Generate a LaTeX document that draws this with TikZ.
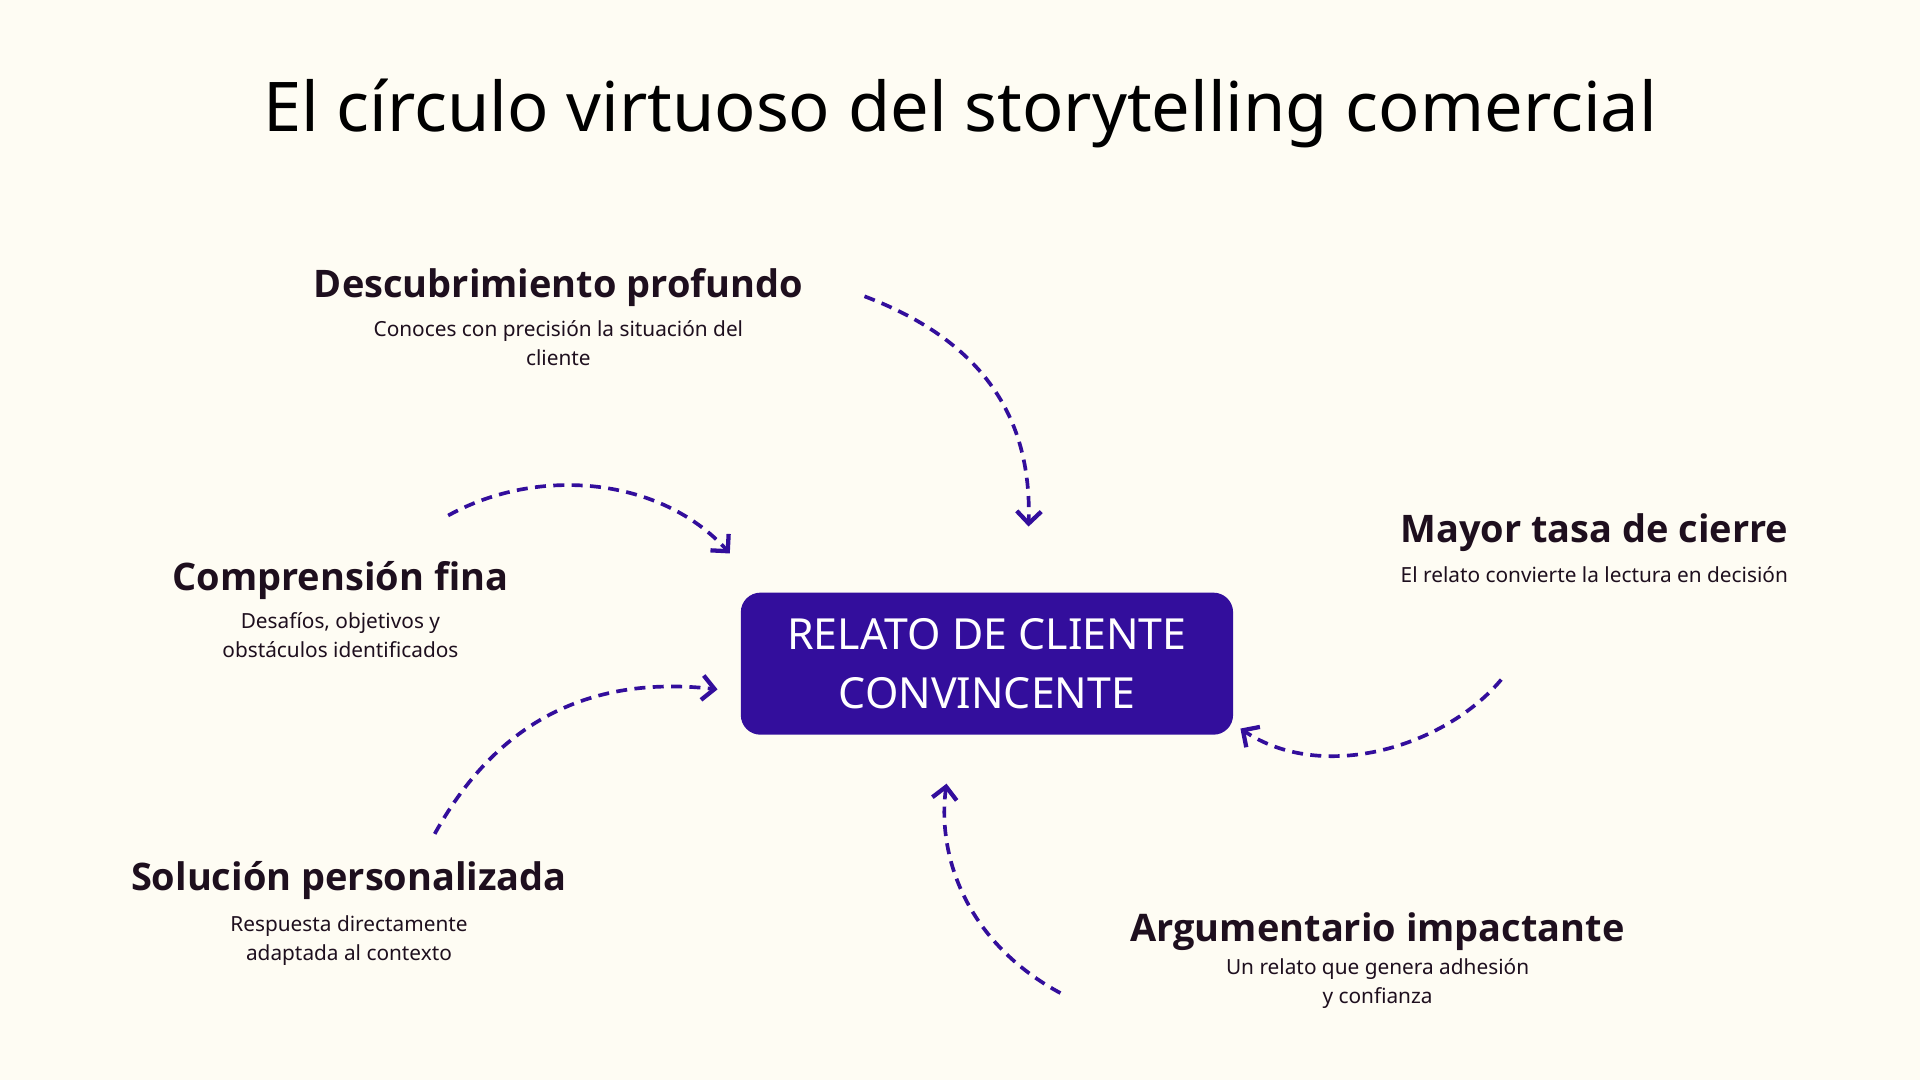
\documentclass[tikz,border=0pt]{standalone}
\usepackage{fontspec}
\setmainfont{Noto Sans}
\newfontfamily\headfont{Open Sans}
\usetikzlibrary{arrows.meta}
\definecolor{bg}{HTML}{FEFCF3}
\definecolor{boxc}{HTML}{330E9C}
\definecolor{ink}{HTML}{1E0F1E}
\begin{document}
\begin{tikzpicture}[x=1pt,y=-1pt,
  head/.style={font=\headfont\fontsize{31}{36}\selectfont\bfseries, text=ink},
  sub/.style={font=\fontsize{17}{23.5}\selectfont, text=ink, align=center},
  conn/.style={draw=boxc, line width=3pt, dash pattern=on 9pt off 6pt,
    -{Straight Barb[length=10pt,width=20pt,line width=3.5pt]}}]
\fill[bg] (0,0) rectangle (1568,882);
\useasboundingbox (0,0) rectangle (1568,882);
\node[font=\fontsize{56}{66}\selectfont, text=black] (title) at (784,93) {El círculo virtuoso del storytelling comercial};
\node[fill=boxc, rounded corners=16pt, minimum width=402pt, minimum height=116pt, text=white, align=center, font=\fontsize{35}{48}\selectfont] (box) at (806,542) {RELATO DE CLIENTE\\CONVINCENTE};
\node[head] (h1) at (456,235) {Descubrimiento profundo};
\node[sub] (s1) at (456,280) {Conoces con precisión la situación del\\cliente};
\node[head] (h2) at (278,474) {Comprensión fina};
\node[sub] (s2) at (278,519) {Desafíos, objetivos y\\obstáculos identificados};
\node[head] (h3) at (285,719) {Solución personalizada};
\node[sub] (s3) at (285,768) {Respuesta directamente\\adaptada al contexto};
\node[head] (h4) at (1302,435) {Mayor tasa de cierre};
\node[sub] (s4) at (1302,469) {El relato convierte la lectura en decisión};
\node[head] (h5) at (1125,761) {Argumentario impactante};
\node[sub] (s5) at (1125,803) {Un relato que genera adhesión\\y confianza};
\coordinate (a1) at (706,242); \coordinate (b1) at (840,430);
\coordinate (a2) at (366,421); \coordinate (b2) at (596,452);
\coordinate (a3) at (355,681); \coordinate (b3) at (586,563);
\coordinate (a4) at (1226,555); \coordinate (b4) at (1013,595);
\coordinate (a5) at (866,811); \coordinate (b5) at (773,640);
\draw[conn] (a1) .. controls (820,285) and (842,360) .. (b1);
\draw[conn] (a2) .. controls (440,380) and (540,390) .. (b2);
\draw[conn] (a3) .. controls (400,600) and (470,550) .. (b3);
\draw[conn] (a4) .. controls (1180,610) and (1080,640) .. (b4);
\draw[conn] (a5) .. controls (790,770) and (765,700) .. (b5);
\end{tikzpicture}
\end{document}
